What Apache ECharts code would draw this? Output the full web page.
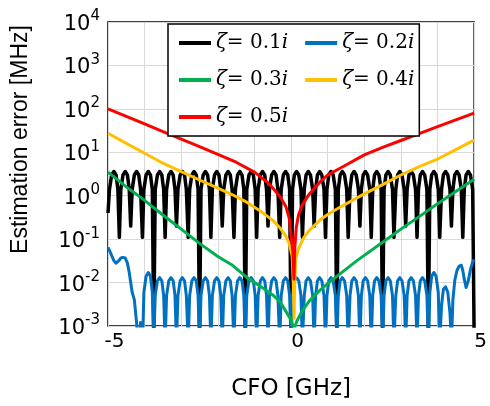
<!DOCTYPE html>
<html>
<head>
<meta charset="utf-8">
<script src="https://cdn.jsdelivr.net/npm/echarts@6/dist/echarts.min.js"></script>
<style>
  html, body { margin: 0; padding: 0; background: #fff; }
  #chart { width: 490px; height: 406px; }
</style>
</head>
<body>
<div id="chart"></div>
<script>
// CFO grid for the two oscillating curves (GHz), one row per lobe
const cfoFine = [
  -5, -4.96, -4.9, -4.84, -4.78, -4.73,
  -4.69, -4.65, -4.59, -4.53, -4.47, -4.42,
  -4.38, -4.34, -4.28, -4.22, -4.16, -4.11,
  -4.06, -4.02, -3.96, -3.9, -3.84, -3.79,
  -3.75, -3.71, -3.65, -3.59, -3.53, -3.48,
  -3.44, -3.4, -3.34, -3.28, -3.22, -3.17,
  -3.13, -3.09, -3.03, -2.97, -2.91, -2.86,
  -2.81, -2.77, -2.71, -2.65, -2.59, -2.54,
  -2.5, -2.46, -2.4, -2.34, -2.28, -2.23,
  -2.19, -2.15, -2.09, -2.03, -1.97, -1.92,
  -1.88, -1.84, -1.78, -1.72, -1.66, -1.61,
  -1.56, -1.52, -1.46, -1.4, -1.34, -1.29,
  -1.25, -1.21, -1.15, -1.09, -1.03, -0.98,
  -0.94, -0.9, -0.84, -0.78, -0.72, -0.67,
  -0.63, -0.59, -0.53, -0.47, -0.41, -0.36,
  -0.31, -0.27, -0.21, -0.15, -0.09, -0.04,
  0, 0.04, 0.09, 0.15, 0.21, 0.27,
  0.31, 0.36, 0.41, 0.47, 0.53, 0.59,
  0.63, 0.67, 0.72, 0.78, 0.84, 0.9,
  0.94, 0.98, 1.03, 1.09, 1.15, 1.21,
  1.25, 1.29, 1.34, 1.4, 1.46, 1.52,
  1.56, 1.61, 1.66, 1.72, 1.78, 1.84,
  1.88, 1.92, 1.97, 2.03, 2.09, 2.15,
  2.19, 2.23, 2.28, 2.34, 2.4, 2.46,
  2.5, 2.54, 2.59, 2.65, 2.71, 2.77,
  2.81, 2.86, 2.91, 2.97, 3.03, 3.09,
  3.13, 3.17, 3.22, 3.28, 3.34, 3.4,
  3.44, 3.48, 3.53, 3.59, 3.65, 3.71,
  3.75, 3.79, 3.84, 3.9, 3.96, 4.02,
  4.06, 4.11, 4.16, 4.22, 4.28, 4.34,
  4.38, 4.42, 4.47, 4.53, 4.59, 4.65,
  4.69, 4.73, 4.78, 4.84, 4.9, 4.96,
  5
]

// zeta = 0.1i (MHz)
const err01 = [
  0.4, 1.4, 3.0, 3.6, 3.0, 1.4,
  0.11, 1.4, 3.0, 3.6, 3.0, 1.4,
  0.2, 1.4, 3.0, 3.6, 3.0, 1.4,
  0.11, 1.4, 3.0, 3.6, 3.0, 1.4,
  0.0006, 1.4, 3.0, 3.6, 3.0, 1.4,
  0.11, 1.4, 3.0, 3.6, 3.0, 1.4,
  0.2, 1.4, 3.0, 3.6, 3.0, 1.4,
  0.11, 1.4, 3.0, 3.6, 3.0, 1.4,
  0.0006, 1.4, 3.0, 3.6, 3.0, 1.4,
  0.11, 1.4, 3.0, 3.6, 3.0, 1.4,
  0.2, 1.4, 3.0, 3.6, 3.0, 1.4,
  0.11, 1.4, 3.0, 3.6, 3.0, 1.4,
  0.0006, 1.4, 3.0, 3.6, 3.0, 1.4,
  0.11, 1.4, 3.0, 3.6, 3.0, 1.4,
  0.2, 1.4, 3.0, 3.6, 3.0, 1.4,
  0.11, 1.4, 3.0, 3.6, 3.0, 1.4,
  0.0006, 1.4, 3.0, 3.6, 3.0, 1.4,
  0.11, 1.4, 3.0, 3.6, 3.0, 1.4,
  0.2, 1.4, 3.0, 3.6, 3.0, 1.4,
  0.11, 1.4, 3.0, 3.6, 3.0, 1.4,
  0.0006, 1.4, 3.0, 3.6, 3.0, 1.4,
  0.11, 1.4, 3.0, 3.6, 3.0, 1.4,
  0.2, 1.4, 3.0, 3.6, 3.0, 1.4,
  0.11, 1.4, 3.0, 3.6, 3.0, 1.4,
  0.0006, 1.4, 3.0, 3.6, 3.0, 1.4,
  0.11, 1.4, 3.0, 3.6, 3.0, 1.4,
  0.2, 1.4, 3.0, 3.6, 3.0, 1.4,
  0.11, 1.4, 3.0, 3.6, 3.0, 1.4,
  0.0006, 1.4, 3.0, 3.6, 3.0, 1.4,
  0.11, 1.4, 3.0, 3.6, 3.0, 1.4,
  0.2, 1.4, 3.0, 3.6, 3.0, 1.4,
  0.11, 1.4, 3.0, 3.6, 3.0, 1.4,
  0.0006
]

// zeta = 0.2i (MHz)
const err02 = [
  0.065, 0.055, 0.042, 0.032, 0.028, 0.029,
  0.033, 0.037, 0.038, 0.037, 0.028, 0.017,
  0.01, 0.006, 0.004, 0.0012, 0.0003, 0.0012,
  0.0003, 0.006, 0.014, 0.017, 0.014, 0.006,
  0.0004, 0.005, 0.011, 0.013, 0.011, 0.005,
  0.0004, 0.005, 0.011, 0.013, 0.011, 0.005,
  0.0004, 0.005, 0.011, 0.013, 0.011, 0.005,
  0.0004, 0.005, 0.011, 0.013, 0.011, 0.005,
  0.0004, 0.005, 0.011, 0.013, 0.011, 0.005,
  0.0004, 0.005, 0.011, 0.013, 0.011, 0.005,
  0.0004, 0.005, 0.011, 0.013, 0.011, 0.005,
  0.0004, 0.005, 0.011, 0.013, 0.011, 0.005,
  0.0004, 0.005, 0.011, 0.013, 0.011, 0.005,
  0.0004, 0.005, 0.011, 0.013, 0.011, 0.005,
  0.0004, 0.005, 0.011, 0.013, 0.011, 0.005,
  0.0004, 0.005, 0.011, 0.013, 0.011, 0.005,
  0.0004, 0.005, 0.011, 0.013, 0.011, 0.005,
  0.0004, 0.005, 0.011, 0.013, 0.011, 0.005,
  0.0004, 0.005, 0.011, 0.013, 0.011, 0.005,
  0.0004, 0.005, 0.011, 0.013, 0.011, 0.005,
  0.0004, 0.005, 0.011, 0.013, 0.011, 0.005,
  0.0004, 0.005, 0.011, 0.013, 0.011, 0.005,
  0.0004, 0.005, 0.011, 0.013, 0.011, 0.005,
  0.0004, 0.005, 0.011, 0.013, 0.011, 0.005,
  0.0004, 0.005, 0.011, 0.013, 0.011, 0.005,
  0.0004, 0.005, 0.011, 0.013, 0.011, 0.005,
  0.0004, 0.005, 0.011, 0.013, 0.011, 0.005,
  0.0004, 0.005, 0.011, 0.013, 0.011, 0.005,
  0.0004, 0.006, 0.014, 0.017, 0.014, 0.006,
  0.0004, 0.003, 0.007, 0.008, 0.006, 0.002,
  0.0004, 0.004, 0.011, 0.019, 0.024, 0.025,
  0.019, 0.012, 0.0077, 0.011, 0.02, 0.03,
  0.034
]

// zeta = 0.3i
const cfo03 = [-5, -4.5, -4, -3.5, -3, -2.5, -2, -1.6, -1.2, -0.8, -0.5, -0.3, -0.1, 0, 0.05, 0.08,
  0.11, 0.16, 0.3, 0.5, 0.8, 1, 1.3, 1.8, 2.5, 3, 3.5, 4, 4.5, 5]
const err03 = [3.5, 1.6, 0.78, 0.36, 0.17, 0.08, 0.04, 0.025, 0.013, 0.0078, 0.0052, 0.0036, 0.0019, 0.0014, 0.001, 0.0004,
  0.001, 0.0013, 0.0022, 0.0038, 0.0068, 0.0095, 0.015, 0.032, 0.085, 0.17, 0.33, 0.65, 1.25, 2.4]

// zeta = 0.4i
const cfo04 = [-5, -4.5, -4, -3.5, -3, -2.5, -2, -1.6, -1.2, -0.8, -0.5, -0.3, -0.15, -0.05, 0.03, 0.06, 0.07, 0.08,
  0.09, 0.1, 0.13, 0.2, 0.35, 0.5, 0.8, 1, 1.3, 1.7, 2, 2.5, 3, 3.5, 4, 4.5, 5]
const err04 = [27.5, 16, 9.5, 5.6, 3.6, 2.3, 1.5, 1.05, 0.7, 0.42, 0.27, 0.18, 0.12, 0.08, 0.04, 0.01, 0.004, 0.0015,
  0.004, 0.01, 0.035, 0.06, 0.11, 0.16, 0.28, 0.37, 0.52, 0.8, 1.1, 1.8, 3.0, 4.7, 7.0, 11.5, 19]

// zeta = 0.5i
const cfo05 = [-5, -4.5, -4, -3.5, -3, -2.5, -2, -1.5, -1, -0.6, -0.3, -0.14, -0.05, 0, 0.05, 0.08,
  0.1, 0.14, 0.2, 0.3, 0.5, 0.8, 1, 1.5, 2, 2.5, 3, 3.5, 4, 4.5, 5]
const err05 = [100, 67, 45, 30, 20, 13.5, 9, 5.9, 3.5, 1.9, 0.95, 0.56, 0.3, 0.12, 0.05, 0.012,
  0.06, 0.18, 0.35, 0.6, 1.1, 2.1, 3.0, 5.1, 8.7, 12.9, 18.7, 27, 39, 56, 80]

const seriesNames = ['ζ= 0.1i', 'ζ= 0.2i', 'ζ= 0.3i', 'ζ= 0.4i', 'ζ= 0.5i']
const seriesColors = ['#000000', '#0070C0', '#00B050', '#FFC000', '#FF0000']
// tick labels along the CFO axis, one slot per GHz
const xTickLabels = ['-5', '', '', '', '', '0', '', '', '', '', '5']

const zip = (xs, ys) => xs.map((x, i) => [x, ys[i]])
const curves = [
  zip(cfoFine, err01),
  zip(cfoFine, err02),
  zip(cfo03, err03),
  zip(cfo04, err04),
  zip(cfo05, err05)
]

const chart = echarts.init(document.getElementById('chart'))

const gridLine = { color: '#d9d9d9', width: 1 }

const option = {
  animation: false,
  backgroundColor: '#fff',
  color: seriesColors,
  grid: {
    left: 108,
    right: 13,
    top: 22,
    bottom: 79,
    show: true,
    borderColor: '#000',
    borderWidth: 1.5,
    backgroundColor: 'transparent'
  },
  legend: {
    left: 168,
    top: 24,
    width: 240,
    orient: 'horizontal',
    icon: 'rect',
    itemWidth: 32,
    itemHeight: 4,
    itemGap: 17,
    padding: [9, 5, 9, 11],
    backgroundColor: '#fff',
    borderColor: '#000',
    borderWidth: 1.5,
    borderRadius: 0,
    data: seriesNames,
    formatter: name => name.replace('ζ', '{it|ζ}').replace(/i$/, '{it|i}'),
    textStyle: {
      fontFamily: 'DejaVu Serif',
      fontSize: 20,
      lineHeight: 13,
      color: '#000',
      rich: {
        it: { fontFamily: 'DejaVu Serif', fontStyle: 'italic', fontSize: 20, lineHeight: 13, color: '#000' }
      }
    }
  },
  xAxis: [
    {
      // value axis for the curves: grid lines every 1 GHz, no labels
      type: 'value',
      min: -5,
      max: 5,
      interval: 1,
      name: 'CFO [GHz]',
      nameLocation: 'middle',
      nameGap: 52,
      nameTextStyle: { fontFamily: 'DejaVu Sans', fontSize: 23, color: '#000' },
      axisLine: { show: false, onZero: false },
      axisTick: { show: false },
      axisLabel: { show: false },
      splitLine: { show: true, lineStyle: gridLine }
    },
    {
      // label axis: same span, carries -5 / 0 / 5
      type: 'category',
      position: 'bottom',
      boundaryGap: false,
      data: xTickLabels,
      axisLine: { show: false, onZero: false },
      axisTick: { show: false },
      splitLine: { show: false },
      axisLabel: {
        interval: 0,
        margin: 6,
        fontFamily: 'DejaVu Sans',
        fontSize: 20,
        color: '#000',
        formatter: v => v === '' ? '' : '{p|}' + v,
        rich: { p: { width: 13 } }
      }
    }
  ],
  yAxis: {
    type: 'log',
    logBase: 10,
    min: 0.001,
    max: 10000,
    splitNumber: 7,
    name: 'Estimation error [MHz]',
    nameLocation: 'middle',
    nameGap: 76,
    nameTextStyle: { fontFamily: 'Liberation Sans', fontSize: 23, color: '#000', padding: [0, 0, 0, 69] },
    axisLine: { show: false, onZero: false },
    axisTick: { show: false },
    axisLabel: {
      margin: 8,
      formatter: v => '{b|10}{e|' + Math.round(Math.log10(v)) + '}',
      rich: {
        b: { fontFamily: 'DejaVu Sans', fontSize: 21, lineHeight: 26, verticalAlign: 'bottom', color: '#000' },
        e: { fontFamily: 'DejaVu Sans', fontSize: 15, lineHeight: 15, verticalAlign: 'top', color: '#000' }
      }
    },
    splitLine: { show: true, lineStyle: gridLine }
  },
  series: curves.map((data, i) => ({
    name: seriesNames[i],
    type: 'line',
    xAxisIndex: 0,
    data: data,
    showSymbol: false,
    symbol: 'none',
    clip: true,
    lineStyle: { width: i === 0 ? 3.5 : 3, color: seriesColors[i], join: 'round' },
    itemStyle: { color: seriesColors[i] }
  }))
}

chart.setOption(option)
</script>
</body>
</html>
